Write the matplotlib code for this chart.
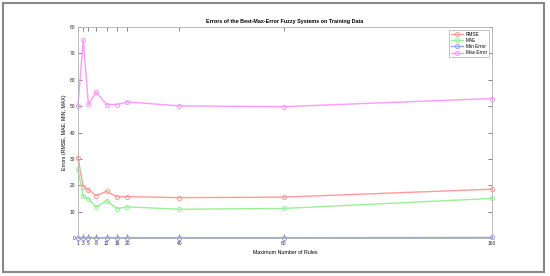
import matplotlib.pyplot as plt
from matplotlib.patches import Rectangle

plt.rcParams['font.family'] = ['Liberation Sans', 'DejaVu Sans']

rules = [1, 3, 5, 8, 12, 16, 20, 40, 80, 160]
rmse = [30.5, 19.5, 18.3, 16.1, 17.7, 15.6, 15.7, 15.3, 15.5, 18.5]
mae = [26.0, 15.8, 14.9, 11.7, 14.2, 11.1, 11.8, 10.9, 11.2, 15.0]
min_err = [0.1, 0.1, 0.1, 0.1, 0.1, 0.1, 0.1, 0.1, 0.1, 0.2]
max_err = [50.0, 75.1, 50.7, 55.3, 50.6, 50.6, 51.6, 50.1, 49.8, 52.9]

fig = plt.figure(figsize=(5.5, 2.76), dpi=100)
# grey frame round the whole figure
fig.patches.append(Rectangle((0.006, 0.014), 0.983, 0.976, transform=fig.transFigure,
                             fill=False, edgecolor='#888888', lw=1.5))
ax = fig.add_axes([0.1418, 0.1377, 0.7522, 0.7643])

styles = [('RMSE', rmse, '#ff9a9a'), ('MAE', mae, '#99f099'),
          ('Min Error', min_err, '#9f9fff'), ('Max Error', max_err, '#ff99ff')]
for name, vals, col in styles:
    ax.plot(rules, vals, '-o', color=col, lw=1, ms=3, mfc='none', mew=0.7,
            label=name, clip_on=False)

ax.set_xlim(1, 160)
ax.set_ylim(0, 80)
ax.set_xticks(rules)
ax.set_yticks(range(0, 81, 10))
ax.tick_params(direction='in', length=3, width=0.5, labelsize=3.5, color='#555555',
               labelcolor='#222222', top=True, right=True, pad=2)
for s in ax.spines.values():
    s.set_color('#b0b0b0')
    s.set_linewidth(0.6)

ax.set_title('Errors of the Best-Max-Error Fuzzy Systems on Training Data',
             fontsize=3.9, fontweight='bold', pad=3)
ax.set_xlabel('Maximum Number of Rules', fontsize=3.8, labelpad=3)
ax.set_ylabel('Errors (RMSE, MAE, MIN, MAX)', fontsize=3.8, labelpad=2)

leg = ax.legend(loc='upper right', fontsize=3.4, frameon=True, fancybox=False,
                handlelength=2.6, handletextpad=0.5, borderpad=0.4,
                labelspacing=0.25, borderaxespad=0.6)
leg.get_frame().set_edgecolor('#999999')
leg.get_frame().set_linewidth(0.5)

fig.savefig('out.png', dpi=100)
